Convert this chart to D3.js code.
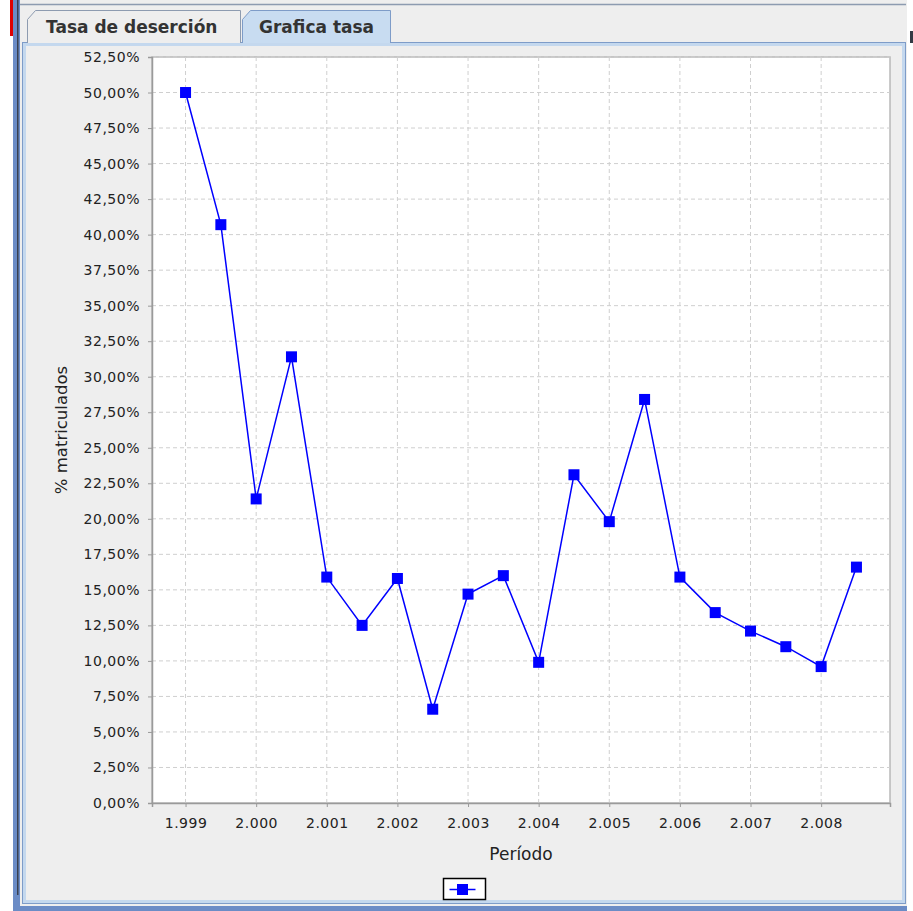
<!DOCTYPE html>
<html>
<head>
<meta charset="utf-8">
<script src="https://cdn.jsdelivr.net/npm/d3@7"></script>
<style>
  body { margin: 0; background: #eeeeee; }
  svg { display: block; }
</style>
</head>
<body>
<script>
// data (half-year periods)
let periods = [1999, 1999.5, 2000, 2000.5, 2001, 2001.5, 2002, 2002.5, 2003, 2003.5,
               2004, 2004.5, 2005, 2005.5, 2006, 2006.5, 2007, 2007.5, 2008, 2008.5];
let tasa = [50.0, 40.7, 21.4, 31.4, 15.9, 12.5, 15.8, 6.6, 14.7, 16.0,
            9.9, 23.1, 19.8, 28.4, 15.9, 13.4, 12.1, 11.0, 9.6, 16.6];
let yearTicks = [1999, 2000, 2001, 2002, 2003, 2004, 2005, 2006, 2007, 2008];
let pctTicks = d3.range(0, 52.6, 2.5);
let tabNames = ["Tasa de deserción", "Grafica tasa"];

let W = 913, H = 911;
let plot = {left: 152, right: 890, top: 57, bottom: 803};

let loc = d3.formatLocale({decimal: ",", thousands: ".", grouping: [3], currency: ["", ""]});
let fmtPct = d => loc.format(".2f")(d) + "%";
let fmtYear = loc.format(",d");

let svg = d3.select("body").append("svg")
    .attr("width", W)
    .attr("height", H);

// window chrome
svg.append("rect").attr("x", 0).attr("y", 0).attr("width", W).attr("height", H).attr("fill", "#eeeeee");
svg.append("rect").attr("x", 0).attr("y", 0).attr("width", 13).attr("height", H).attr("fill", "#ffffff");
svg.append("rect").attr("x", 10).attr("y", 0).attr("width", 3).attr("height", 36).attr("fill", "#e00000");
svg.append("rect").attr("x", 13).attr("y", 0).attr("width", 7).attr("height", H).attr("fill", "#6b8cc6");
svg.append("rect").attr("x", 17).attr("y", 0).attr("width", 1.5).attr("height", 895).attr("fill", "#3a4150");
svg.append("rect").attr("x", 907).attr("y", 0).attr("width", 6).attr("height", H).attr("fill", "#ffffff");
svg.append("rect").attr("x", 910).attr("y", 31).attr("width", 3).attr("height", 12).attr("fill", "#333a44");
svg.append("line").attr("x1", 20).attr("x2", 906).attr("y1", 4.5).attr("y2", 4.5)
    .attr("stroke", "#8d9bb0").attr("stroke-width", 1.5);

// tab content panel
svg.append("rect").attr("x", 22.5).attr("y", 42.5).attr("width", 883).attr("height", 861)
    .attr("fill", "#eeeeee").attr("stroke", "#7e9cc8").attr("stroke-width", 1);
svg.append("rect").attr("x", 24.5).attr("y", 44.5).attr("width", 879).attr("height", 857)
    .attr("fill", "none").attr("stroke", "#c4d8ee").attr("stroke-width", 3);
svg.append("rect").attr("x", 20).attr("y", 906).attr("width", 887).attr("height", 5).attr("fill", "#6b8cc6");

// tabs
let tabs = [
  {x0: 27.5, x1: 240.5, top: 10.5, fill: "#eeeeee", stroke: "#8d9bb0", tx: 46},
  {x0: 242.5, x1: 390.5, top: 10.5, fill: "#c8dcf1", stroke: "#7e9cc8", tx: 259}
];
tabs.forEach(function(t, i) {
  svg.append("path")
      .attr("d", `M${t.x0},43 L${t.x0},${t.top + 9} L${t.x0 + 8},${t.top} L${t.x1},${t.top} L${t.x1},43`)
      .attr("fill", t.fill)
      .attr("stroke", t.stroke);
  svg.append("text")
      .attr("x", t.tx)
      .attr("y", 32.5)
      .attr("fill", "#333333")
      .style("font-family", "DejaVu Sans")
      .style("font-weight", "bold")
      .style("font-size", "17px")
      .text(tabNames[i]);
});

// scales
let x = d3.scaleLinear()
    .domain([1998.525, 2008.975])
    .range([plot.left, plot.right]);
let y = d3.scaleLinear()
    .domain([0, 52.5])
    .range([plot.bottom, plot.top]);

svg.append("rect")
    .attr("x", plot.left).attr("y", plot.top)
    .attr("width", plot.right - plot.left).attr("height", plot.bottom - plot.top)
    .attr("fill", "#ffffff").attr("stroke", "#b8b8b8").attr("stroke-width", 1.5);

// grid
svg.append("g").selectAll("line").data(pctTicks.slice(1)).enter()
    .append("line")
    .attr("x1", plot.left).attr("x2", plot.right)
    .attr("y1", d => y(d)).attr("y2", d => y(d))
    .attr("stroke", "#cfcfcf").attr("stroke-dasharray", "4,3");
svg.append("g").selectAll("line").data(yearTicks).enter()
    .append("line")
    .attr("x1", d => x(d)).attr("x2", d => x(d))
    .attr("y1", plot.top).attr("y2", plot.bottom)
    .attr("stroke", "#cfcfcf").attr("stroke-dasharray", "4,3");

// axes
let yAxis = svg.append("g")
    .attr("transform", `translate(${plot.left},0)`)
    .call(d3.axisLeft(y).tickValues(pctTicks).tickFormat(fmtPct).tickSize(4).tickPadding(8));
let xAxis = svg.append("g")
    .attr("transform", `translate(0,${plot.bottom})`)
    .call(d3.axisBottom(x).tickValues(yearTicks).tickFormat(fmtYear).tickSize(4).tickPadding(11));
[yAxis, xAxis].forEach(function(a) {
  a.select(".domain").attr("stroke", "#9a9a9a").attr("stroke-width", 1.5);
  a.selectAll(".tick line").attr("stroke", "#9a9a9a");
  a.selectAll("text")
      .attr("fill", "#222222")
      .style("font-family", "DejaVu Sans")
      .style("font-size", "14px")
      .style("letter-spacing", "0.5px");
});

// axis labels
svg.append("text")
    .attr("transform", `translate(67,${(plot.top + plot.bottom) / 2}) rotate(-90)`)
    .style("text-anchor", "middle")
    .style("font-family", "DejaVu Sans")
    .style("font-size", "16.5px")
    .attr("fill", "#222222")
    .text("% matriculados");
svg.append("text")
    .attr("x", 521)
    .attr("y", 860)
    .style("text-anchor", "middle")
    .style("font-family", "DejaVu Sans")
    .style("font-size", "17px")
    .attr("fill", "#222222")
    .text("Período");

// series
let line = d3.line()
    .x((d, i) => x(periods[i]))
    .y(d => y(d));
svg.append("path")
    .datum(tasa)
    .attr("d", line)
    .attr("fill", "none")
    .attr("stroke", "#0000ff")
    .attr("stroke-width", 1.5);
let sq = 11;
svg.append("g").selectAll("rect").data(tasa).enter()
    .append("rect")
    .attr("x", (d, i) => x(periods[i]) - sq / 2)
    .attr("y", d => y(d) - sq / 2)
    .attr("width", sq)
    .attr("height", sq)
    .attr("fill", "#0000ff");

// legend
let lg = svg.append("g").attr("transform", "translate(443.5,878.5)");
lg.append("rect").attr("width", 42).attr("height", 21)
    .attr("fill", "#ffffff").attr("stroke", "#000000").attr("stroke-width", 1.5);
lg.append("line").attr("x1", 6).attr("x2", 32).attr("y1", 11).attr("y2", 11)
    .attr("stroke", "#0000ff").attr("stroke-width", 1.5);
lg.append("rect").attr("x", 13.5).attr("y", 5.5).attr("width", 11).attr("height", 11).attr("fill", "#0000ff");
</script>
</body>
</html>
